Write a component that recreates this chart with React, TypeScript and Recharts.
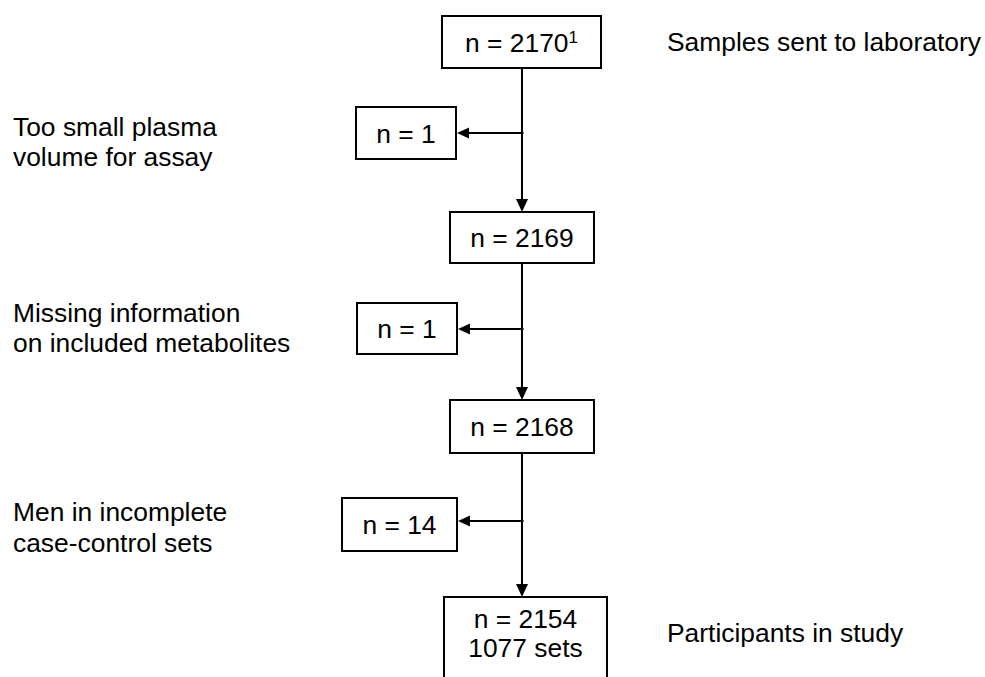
import React from 'react';
import { ScatterChart, XAxis, YAxis, Scatter, ReferenceArea, ReferenceLine } from 'recharts';

// ---- data ----
const stageCounts = [2170, 2169, 2168, 2154];
const stageNotes = ['1', '', '', ''];
const finalSets = 1077;
const excludedCounts = [1, 1, 14];
const exclusionReasons = [
  ['Too small plasma', 'volume for assay'],
  ['Missing information', 'on included metabolites'],
  ['Men in incomplete', 'case-control sets'],
];
const stageDescriptions = ['Samples sent to laboratory', '', '', 'Participants in study'];

// ---- layout (coordinate system of the hidden axes) ----
const W = 985;
const H = 677;
const FONT = "'Liberation Sans', Arial, Helvetica, sans-serif";
const FONT_SIZE = 26.4;
const spineX = 522;
const mainBoxes = [
  { x1: 442, x2: 601, y1: 16, y2: 68 },
  { x1: 450, x2: 594, y1: 212, y2: 263 },
  { x1: 450, x2: 594, y1: 400, y2: 453 },
  { x1: 444, x2: 607, y1: 597, y2: 700 },
];
const sideBoxes = [
  { x1: 356, x2: 456, y1: 107, y2: 159 },
  { x1: 357, x2: 457, y1: 303, y2: 354 },
  { x1: 342, x2: 457, y1: 498, y2: 551 },
];
const arrowY = [133, 329, 521];
const reasonX = 13;
const reasonBaselines = [[136, 166], [322, 352], [521, 552]];
const descX = 667;
const descBaselines = [51, 0, 0, 642];
const finalBaselines = [628, 657];

type TextPt = { x: number; y: number; text: string; sup?: string; anchor: 'start' | 'middle' };

const textPoints: TextPt[] = [];
stageCounts.forEach((c, i) => {
  const b = mainBoxes[i];
  const cx = (b.x1 + b.x2) / 2;
  if (i === stageCounts.length - 1) {
    textPoints.push({ x: cx, y: finalBaselines[0], text: `n = ${c}`, anchor: 'middle' });
    textPoints.push({ x: cx, y: finalBaselines[1], text: `${finalSets} sets`, anchor: 'middle' });
  } else {
    const cy = (b.y1 + b.y2) / 2 + 9.5;
    textPoints.push({ x: cx, y: cy, text: `n = ${c}`, sup: stageNotes[i], anchor: 'middle' });
  }
  if (stageDescriptions[i]) {
    textPoints.push({ x: descX, y: descBaselines[i], text: stageDescriptions[i], anchor: 'start' });
  }
});
excludedCounts.forEach((c, i) => {
  const b = sideBoxes[i];
  textPoints.push({ x: (b.x1 + b.x2) / 2, y: (b.y1 + b.y2) / 2 + 9.5, text: `n = ${c}`, anchor: 'middle' });
  exclusionReasons[i].forEach((line, j) => {
    textPoints.push({ x: reasonX, y: reasonBaselines[i][j], text: line, anchor: 'start' });
  });
});

const arrowPoints = [
  ...mainBoxes.slice(1).map((b) => ({ x: spineX, y: b.y1, dir: 'down' })),
  ...sideBoxes.map((b, i) => ({ x: b.x2 + 1, y: arrowY[i], dir: 'left' })),
];

const TextShape = (props: any) => {
  const { cx, cy, payload } = props;
  return (
    <text x={cx} y={cy} textAnchor={payload.anchor} fontFamily={FONT} fontSize={FONT_SIZE} fill="#000">
      {payload.text}
      {payload.sup ? (
        <tspan fontSize={17} dy={-9}>
          {payload.sup}
        </tspan>
      ) : null}
    </text>
  );
};

const ArrowShape = (props: any) => {
  const { cx, cy, payload } = props;
  let pts = '';
  if (payload.dir === 'down') {
    pts = `${cx},${cy} ${cx - 6},${cy - 13} ${cx + 6},${cy - 13}`;
  } else {
    pts = `${cx},${cy} ${cx + 12},${cy - 5.5} ${cx + 12},${cy + 5.5}`;
  }
  return <polygon points={pts} fill="#000" stroke="none" />;
};

export default function App() {
  return (
    <div style={{ position: 'absolute', left: 0, top: 0, width: W, height: H, overflow: 'hidden', background: '#fff' }}>
      <ScatterChart width={W} height={H} margin={{ top: 0, right: 0, bottom: 0, left: 0 }}>
        <XAxis type="number" dataKey="x" domain={[0, W]} allowDataOverflow hide />
        <YAxis type="number" dataKey="y" domain={[0, H]} allowDataOverflow reversed hide />
        {mainBoxes.slice(0, -1).map((b, i) => (
          <ReferenceLine
            key={`v${i}`}
            segment={[
              { x: spineX, y: b.y2 },
              { x: spineX, y: mainBoxes[i + 1].y1 - 4 },
            ]}
            stroke="#000"
            strokeWidth={2}
          />
        ))}
        {sideBoxes.map((b, i) => (
          <ReferenceLine
            key={`h${i}`}
            segment={[
              { x: spineX + 1.5, y: arrowY[i] },
              { x: b.x2 + 5, y: arrowY[i] },
            ]}
            stroke="#000"
            strokeWidth={2}
          />
        ))}
        {[...mainBoxes, ...sideBoxes].map((b, i) => (
          <ReferenceArea
            key={`b${i}`}
            x1={b.x1}
            x2={b.x2}
            y1={b.y1}
            y2={b.y2}
            fill="#fff"
            fillOpacity={1}
            stroke="#000"
            strokeWidth={2}
            strokeOpacity={1}
            ifOverflow="visible"
          />
        ))}
        <Scatter data={arrowPoints} shape={ArrowShape} isAnimationActive={false} />
        <Scatter data={textPoints} shape={TextShape} isAnimationActive={false} />
      </ScatterChart>
    </div>
  );
}
